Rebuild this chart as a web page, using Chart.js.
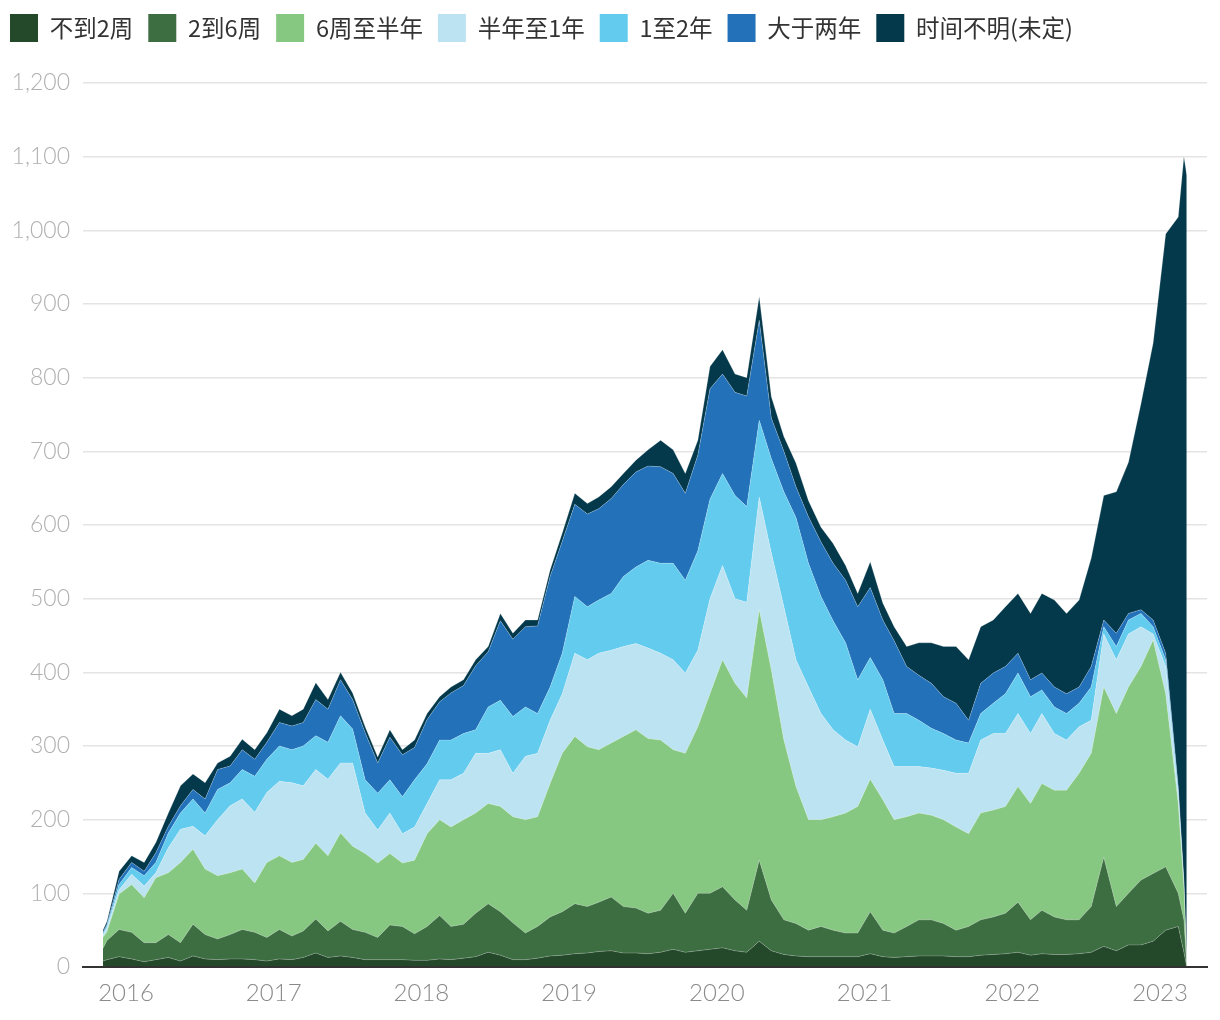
<!DOCTYPE html>
<html>
<head>
<meta charset="utf-8">
<script src="https://cdn.jsdelivr.net/npm/chart.js@4/dist/chart.umd.min.js"></script>
<style>
  html, body { margin: 0; padding: 0; background: #ffffff; }
  #wrap { width: 1220px; height: 1020px; }
</style>
</head>
<body>
<div id="wrap"><canvas id="c" width="1220" height="1020"></canvas></div>
<script>
// ---- data ----
const seriesNames = ['不到2周', '2到6周', '6周至半年', '半年至1年', '1至2年', '大于两年', '时间不明(未定)'];

const dates = ['2015-11-05',
  '2015-11-15','2015-12-15','2016-01-15','2016-02-15','2016-03-15','2016-04-15','2016-05-15','2016-06-15','2016-07-15','2016-08-15',
  '2016-09-15','2016-10-15','2016-11-15','2016-12-15','2017-01-15','2017-02-15','2017-03-15','2017-04-15','2017-05-15','2017-06-15',
  '2017-07-15','2017-08-15','2017-09-15','2017-10-15','2017-11-15','2017-12-15','2018-01-15','2018-02-15','2018-03-15','2018-04-15',
  '2018-05-15','2018-06-15','2018-07-15','2018-08-15','2018-09-15','2018-10-15','2018-11-15','2018-12-15','2019-01-15','2019-02-15',
  '2019-03-15','2019-04-15','2019-05-15','2019-06-15','2019-07-15','2019-08-15','2019-09-15','2019-10-15','2019-11-15','2019-12-15',
  '2020-01-15','2020-02-15','2020-03-15','2020-04-15','2020-05-15','2020-06-15','2020-07-15','2020-08-15','2020-09-15','2020-10-15',
  '2020-11-15','2020-12-15','2021-01-15','2021-02-15','2021-03-15','2021-04-15','2021-05-15','2021-06-15','2021-07-15','2021-08-15',
  '2021-09-15','2021-10-15','2021-11-15','2021-12-15','2022-01-15','2022-02-15','2022-03-15','2022-04-15','2022-05-15','2022-06-15',
  '2022-07-15','2022-08-15','2022-09-15','2022-10-15','2022-11-15','2022-12-15','2023-01-15','2023-02-15',
  '2023-03-01','2023-03-08'];

const lessThan2w = [8,
  10,14,11,7,10,13,8,15,11,10,
  11,11,10,8,11,10,13,19,13,15,
  13,10,10,10,10,9,9,11,10,12,
  14,20,16,10,10,12,15,16,18,19,
  21,22,19,19,18,20,24,20,22,24,
  26,22,20,35,22,17,15,14,14,14,
  14,14,18,14,13,14,15,15,15,14,
  14,16,17,18,20,16,18,17,17,18,
  20,28,22,30,30,35,50,55,
  20,0];

const w2to6 = [17,
  26,37,36,26,23,31,25,43,33,28,
  33,40,37,32,40,32,36,46,36,47,
  38,37,30,47,45,36,46,59,45,46,
  59,66,59,50,36,43,53,59,68,63,
  67,73,63,61,55,57,76,53,78,76,
  83,69,57,110,69,47,44,36,41,36,
  32,32,57,36,33,41,49,49,44,36,
  41,48,51,55,68,48,59,51,47,46,
  62,121,60,70,88,92,86,45,
  44,0];

const w6toHalfYear = [15,
  12,48,65,61,88,84,109,102,89,86,
  84,82,67,102,100,100,97,103,102,120,
  113,107,101,97,86,100,126,130,135,142,
  136,136,143,144,154,149,181,215,227,217,
  207,209,231,242,237,231,195,217,226,271,
  308,294,288,340,312,244,186,150,145,154,
  163,172,180,177,154,149,145,142,141,140,
  126,145,145,145,157,158,172,172,176,199,
  208,231,262,280,290,317,235,122,
  45,0];

const halfTo1Year = [3,
  5,6,14,16,7,34,45,31,45,76,
  91,95,96,95,101,108,100,100,104,95,
  113,55,45,55,40,45,41,54,64,63,
  81,68,77,59,86,86,86,81,113,118,
  131,126,122,117,123,118,122,109,104,129,
  128,115,130,153,159,181,172,180,144,118,
  99,81,95,81,72,68,63,64,67,73,
  82,99,104,99,99,95,95,77,68,63,
  45,72,73,72,54,8,37,9,
  3,0];

const y1to2 = [2,
  3,7,9,14,14,20,22,37,31,41,
  31,40,49,45,48,45,54,46,50,64,
  46,45,50,45,50,64,54,54,54,54,
  32,63,67,77,67,54,45,55,77,72,
  72,77,95,104,119,122,131,126,135,135,
  125,140,130,104,128,156,193,168,159,148,
  132,91,70,82,72,72,63,54,50,45,
  41,36,41,54,55,50,32,36,36,32,
  45,10,18,19,18,10,9,9,
  2,0];

const over2Years = [2,
  2,7,7,6,13,9,10,13,19,27,
  23,27,23,23,32,32,32,49,45,49,
  40,64,41,58,57,44,60,52,64,65,
  87,75,108,105,109,119,150,152,125,126,
  124,129,125,129,128,131,122,118,130,150,
  135,140,150,136,55,55,42,63,74,78,
  85,99,95,81,99,64,61,61,50,50,
  31,41,41,37,27,23,23,27,27,22,
  28,9,18,9,5,9,9,5,
  2,0];

const unknownTime = [3,
  4,11,9,12,14,18,27,21,22,9,
  13,14,13,13,18,14,18,23,13,10,
  9,8,8,10,7,10,8,7,8,8,
  8,7,10,8,9,8,9,11,15,14,
  16,16,15,16,22,36,32,27,20,30,
  33,25,25,32,29,20,32,22,20,27,
  20,18,35,23,19,27,44,55,68,77,
  82,77,72,81,81,90,108,118,109,118,
  147,169,192,205,280,376,569,773,
  984,1075];

const xTickLabels = ['2016','2017','2018','2019','2020','2021','2022','2023'];
const yTickStep = 100;

// ---- styles ----
const colors = ['#23482a', '#3d6e42', '#86c881', '#bbe3f2', '#62cbee', '#2271b9', '#04394b'];
const allSeries = [lessThan2w, w2to6, w6toHalfYear, halfTo1Year, y1to2, over2Years, unknownTime];

function toYear(s) {
  const [y, m, d] = s.split('-').map(Number);
  const a = Date.UTC(y, 0, 1), b = Date.UTC(y + 1, 0, 1);
  return y + (Date.UTC(y, m - 1, d) - a) / (b - a);
}
const xs = dates.map(toYear);

const datasets = allSeries.map((vals, i) => ({
  label: seriesNames[i],
  data: vals.map((v, j) => ({ x: xs[j], y: v })),
  backgroundColor: colors[i],
  borderColor: 'rgba(255,255,255,0.28)',
  borderWidth: 0.8,
  pointRadius: 0,
  pointHitRadius: 0,
  tension: 0,
  fill: i === 0 ? 'origin' : '-1'
}));

new Chart(document.getElementById('c'), {
  type: 'line',
  data: { datasets },
  options: {
    responsive: false,
    devicePixelRatio: 1,
    animation: false,
    events: [],
    layout: { padding: { left: -5, top: -1, right: 13, bottom: 0 } },
    plugins: {
      tooltip: { enabled: false },
      legend: {
        position: 'top',
        align: 'start',
        labels: {
          boxWidth: 28,
          boxHeight: 28,
          padding: 15,
          color: '#333333',
          font: { family: '"Noto Sans CJK SC", "Noto Sans", sans-serif', size: 23.5 },
          generateLabels: (chart) => Chart.defaults.plugins.legend.labels.generateLabels(chart)
            .map(l => Object.assign(l, { lineWidth: 0, strokeStyle: 'rgba(0,0,0,0)' }))
        }
      }
    },
    scales: {
      x: {
        type: 'linear',
        min: 2015.709,
        max: 2023.318,
        grid: { display: false, drawTicks: false },
        border: { display: true, color: '#333333', width: 2, z: 1 },
        afterBuildTicks: (s) => { s.ticks = xTickLabels.map(l => ({ value: Number(l) })); },
        afterFit: (s) => { s.height = 53; },
        ticks: {
          padding: 12,
          color: '#8a8a8a',
          font: { family: 'Lato, "Noto Sans", sans-serif', size: 24, weight: 300 },
          maxRotation: 0,
          autoSkip: false,
          callback: (v) => String(v)
        }
      },
      y: {
        stacked: true,
        min: 0,
        max: 1242,
        grid: { color: '#e4e4e4', lineWidth: 1.5, drawTicks: false },
        border: { display: false },
        afterFit: (s) => { s.width = 88; },
        ticks: {
          stepSize: yTickStep,
          includeBounds: false,
          padding: 13,
          color: '#b0b0b0',
          font: { family: 'Lato, "Noto Sans", sans-serif', size: 23, weight: 300 },
          callback: (v) => Number(v).toLocaleString('en-US')
        }
      }
    }
  }
});
</script>
</body>
</html>
